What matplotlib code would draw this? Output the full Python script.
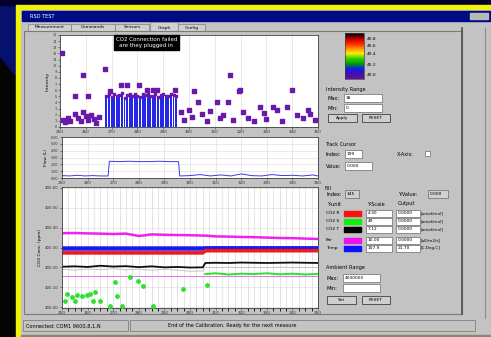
import matplotlib.pyplot as plt
import numpy as np
from matplotlib.patches import Rectangle, Polygon
from matplotlib.colors import LinearSegmentedColormap

# ---- data ----
x_tick_labels = ['250', '260', '270', '280', '290', '300', '310', '320', '330', '340', '350']

# top plot: intensity scatter + bar block
pts_x = [0.7, 5.8, 10.9, 8.9, 17.4, 19.4, 23.6, 26.0, 30.6, 33.7, 36.0, 37.6, 44.6,
         52.0, 53.5, 60.8, 66.0, 69.4, 65.0, 69.8, 90.0, 82.5, 77.5, 88.0, 96.0,
         1, 2, 3, 4, 6, 7, 8, 9, 10, 11, 12, 13, 14, 15,
         47, 48, 50, 51, 55, 57, 58, 62, 63, 67, 71, 73, 75, 79, 80, 84, 86, 92, 94, 97, 99]
pts_y = [12.1, 5.1, 5.1, 8.5, 9.5, 5.9, 6.8, 6.8, 6.8, 6.0, 6.0, 6.0, 6.0,
         5.9, 4.1, 4.1, 8.5, 5.9, 4.1, 6.0, 6.0, 3.3, 3.3, 3.3, 2.8,
         1.2, 0.8, 1.5, 1.0, 2.2, 1.4, 0.9, 2.5, 1.8, 1.1, 2.0, 1.3, 0.7, 1.6,
         2.4, 1.2, 2.8, 1.6, 2.2, 1.0, 2.6, 1.4, 2.0, 1.1, 2.5, 1.5, 0.9, 2.3, 1.3, 2.7, 1.0, 1.9, 1.4, 2.1, 1.2]
block_x = [18, 19, 20, 21, 22, 23, 24, 25, 26, 27, 28, 29, 30, 31,
           32, 33, 34, 35, 36, 37, 38, 39, 40, 41, 42, 43, 44, 45]
block_h = [5.0, 5.3, 4.9, 5.4, 5.1, 5.2, 5.5, 4.8, 5.2, 5.3, 5.0, 5.4, 5.1, 4.9,
           5.3, 5.2, 5.5, 5.0, 5.1, 5.4, 4.9, 5.2, 5.3, 5.0, 5.1, 5.4, 5.2, 5.0]

# middle plot: flow line
flow_x = [0, 3, 6, 9, 12, 15, 18, 18.5, 22, 26, 30, 34, 38, 42, 45.5, 46,
          50, 54, 58, 62, 66, 70, 74, 78, 82, 86, 90, 94, 98, 100]
flow_y = [0.35, 0.3, 0.4, 0.3, 0.35, 0.3, 0.3, 2.45, 2.4, 2.45, 2.4, 2.4, 2.45, 2.4, 2.4, 0.3,
          0.35, 0.5, 0.3, 0.45, 0.3, 0.6, 0.35, 0.3, 0.5, 0.35, 0.4, 0.3, 0.45, 0.3]

# bottom plot: sensor lines
l3_x = [0, 5, 10, 15, 20, 25, 30, 35, 40, 45, 50, 55, 56, 60, 65, 70, 75, 80, 85, 90, 95, 100]
par = [3.72, 3.73, 3.71, 3.70, 3.68, 3.70, 3.58, 3.66, 3.64, 3.63, 3.62, 3.60,
       3.60, 3.56, 3.55, 3.53, 3.52, 3.50, 3.48, 3.47, 3.45, 3.43]
temp = [2.95, 2.95, 2.95, 2.95, 2.95, 2.95, 2.95, 2.95, 2.95, 2.95, 2.95, 2.95,
        2.96, 2.96, 2.96, 2.96, 2.96, 2.96, 2.96, 2.96, 2.96, 2.96]
co2_r = [2.73, 2.73, 2.73, 2.73, 2.73, 2.73, 2.73, 2.73, 2.73, 2.73, 2.73, 2.73,
         2.84, 2.84, 2.84, 2.84, 2.84, 2.84, 2.84, 2.84, 2.84, 2.84]
co2_t = [2.03, 2.05, 2.02, 2.08, 2.04, 2.06, 2.01, 2.05, 2.00, 2.02, 1.99, 2.00,
         2.22, 2.23, 2.22, 2.24, 2.23, 2.22, 2.23, 2.24, 2.23, 2.22]
pink = [1.54, 1.54, 1.54, 1.54, 1.54, 1.54, 1.54, 1.54, 1.54, 1.54, 1.54, 1.54,
        1.54, 1.54, 1.54, 1.54, 1.54, 1.54, 1.54, 1.54, 1.54, 1.54]
grey = [1.90, 1.86, 1.92, 1.88, 1.93, 1.87, 1.91, 1.85, 1.90, 1.86, 1.80, 1.82,
        2.00, 1.98, 2.01, 1.99, 2.00, 1.98, 2.01, 1.99, 2.00, 1.99]
green_x = [56, 60, 65, 70, 75, 80, 85, 90, 95, 100]
green_y = [1.66, 1.70, 1.64, 1.68, 1.66, 1.70, 1.65, 1.68, 1.64, 1.67]
gdot_x = [2.0, 3.9, 5.9, 7.8, 9.8, 10.9, 12.9, 1.2, 5.1, 12.1, 14.8, 21.5, 20.7,
          26.6, 29.7, 31.6, 47.3, 56.6, 18.8, 23.4, 35.5]
gdot_y = [0.64, 0.50, 0.60, 0.55, 0.60, 0.64, 0.74, 0.30, 0.30, 0.30, 0.30, 0.55, 1.24,
          1.49, 1.29, 1.04, 0.89, 1.09, 0.05, 0.05, 0.05]
l3_ticks = ['400.60', '400.50', '400.40', '400.30', '400.20', '400.10', '400.00']

cbar_labels = ['40.8', '40.6', '40.4', '40.2', '40.0']
tabs = ['Measurement', 'Commands', 'Sensors', 'Graph', 'Config']
row_names = ['CO2 R', 'CO2 S', 'CO2 T', 'Par', 'Temp']
row_colors = ['#ff1010', '#10ee10', '#000000', '#ee10ee', '#1010ff']
row_scale = ['4.30', '40', '7.12', '10.00', '107.9']
row_out = ['0.0000', '0.0000', '0.0000', '0.0000', '21.70']
row_unit = ['[umol/mol]', '[umol/mol]', '[umol/mol]', '[uE/m2/s]', '[C.Deg.C]']

FS = 3.6
GRAY = '#c3c3c3'

fig = plt.figure(figsize=(4.91, 3.37), dpi=100)
bg = fig.add_axes([0, 0, 1, 1])
bg.set_xlim(0, 491)
bg.set_ylim(337, 0)
bg.axis('off')

# backdrop
bg.add_patch(Rectangle((0, 0), 491, 337, color='#06106e', zorder=0))
bg.add_patch(Rectangle((0, 0), 491, 5, color='#000028', zorder=0))
bg.add_patch(Polygon([[0, 58], [16, 78], [16, 337], [0, 337]], color='#050505', zorder=0))
# yellow frame
bg.add_patch(Rectangle((16, 5), 480, 340, color='#f4f400', zorder=1))
# window
bg.add_patch(Rectangle((21, 10), 475, 330, color=GRAY, zorder=2))
bg.add_patch(Rectangle((22, 11), 470, 10, color='#000a84', zorder=3))
bg.text(30, 16, 'RSD TEST', color='white', fontsize=FS, va='center', zorder=4)
bg.add_patch(Rectangle((470, 13), 18, 6, color='#b8b8b8', zorder=4))
bg.add_patch(Rectangle((21, 335), 470, 2, color='#8a8a70', zorder=4))

# tabs
tab_x = [28, 71, 115, 150, 178]
tab_w = [43, 44, 34, 28, 27]
for tx, tw, name in zip(tab_x, tab_w, tabs):
    top = 22 if name == 'Graph' else 24
    bg.add_patch(Rectangle((tx, top), tw, 31 - top, facecolor='#d0d0d0',
                           edgecolor='#808080', lw=0.5, zorder=4))
    bg.text(tx + tw / 2, 27.5, name, fontsize=FS - 0.4, ha='center', va='center', zorder=5)
# tab page frame
bg.add_patch(Rectangle((24, 31), 438, 283, facecolor='none', edgecolor='#7a7a7a', lw=0.8, zorder=4))
bg.plot([462, 462], [28, 314], color='#505050', lw=1.2, zorder=4)
bg.plot([485, 485], [28, 318], color='#8c8c8c', lw=0.8, zorder=4)

# status bar
bg.add_patch(Rectangle((23, 320), 105, 11, facecolor='none', edgecolor='#808080', lw=0.6, zorder=4))
bg.add_patch(Rectangle((130, 320), 345, 11, facecolor='none', edgecolor='#808080', lw=0.6, zorder=4))
bg.text(26, 326, 'Connected: COM1 9600,8,1,N', fontsize=FS, va='center', zorder=5)
bg.text(168, 326, 'End of the Calibration. Ready for the next measure', fontsize=FS, va='center', zorder=5)

# colour bar
cmap = LinearSegmentedColormap.from_list('rsd', ['#000000', '#b00000', '#ff2000', '#ff9000', '#ffee00',
                                                 '#30d000', '#00a000', '#1020e0', '#4010b0', '#6010a0'])
bg.imshow(np.linspace(0, 1, 50).reshape(-1, 1), cmap=cmap, aspect='auto',
          extent=(345, 364, 79, 33), zorder=5)
bg.add_patch(Rectangle((345, 33), 19, 46, facecolor='none', edgecolor='#404040', lw=0.5, zorder=6))
for yy, lab in zip([39, 46, 54, 65, 75], cbar_labels):
    bg.text(367, yy, lab, fontsize=FS - 0.4, va='center', zorder=6)


def box(x, y, w, h, txt='', white=True):
    bg.add_patch(Rectangle((x, y), w, h, facecolor='white' if white else '#d0d0d0',
                           edgecolor='#6a6a6a', lw=0.5, zorder=5))
    if txt:
        bg.text(x + 2, y + h / 2, txt, fontsize=FS - 0.4, va='center', zorder=6)


def button(x, y, w, h, txt):
    bg.add_patch(Rectangle((x, y), w, h, facecolor='#cfcfcf', edgecolor='#404040', lw=0.6, zorder=5))
    bg.text(x + w / 2, y + h / 2, txt, fontsize=FS - 0.4, ha='center', va='center', zorder=6)


# intensity range
bg.text(326, 90, 'Intensity Range', fontsize=FS, va='center', zorder=6)
bg.text(328, 98, 'Max:', fontsize=FS, va='center', zorder=6)
box(344, 94, 38, 8, '38')
bg.text(328, 108, 'Min:', fontsize=FS, va='center', zorder=6)
box(344, 104, 38, 8, '0')
button(328, 114, 29, 8, 'Apply')
button(362, 114, 28, 8, 'RESET')

# track cursor
bg.text(325, 144, 'Track Cursor', fontsize=FS, va='center', zorder=6)
bg.text(326, 154, 'Index:', fontsize=FS, va='center', zorder=6)
box(345, 150, 17, 8, '199')
bg.text(397, 154, 'X-Axis:', fontsize=FS, va='center', zorder=6)
box(425, 151, 5, 5)
bg.text(326, 166, 'Value:', fontsize=FS, va='center', zorder=6)
box(345, 162, 27, 8, '0.000')

# y-unit table
bg.text(325, 188, 'Fill', fontsize=FS, va='center', zorder=6)
bg.text(327, 194, 'Index:', fontsize=FS, va='center', zorder=6)
box(345, 190, 14, 8, '145', white=False)
bg.text(398, 194, 'Y-Value:', fontsize=FS, va='center', zorder=6)
box(428, 190, 20, 8, '0.000', white=False)
bg.text(327, 204, 'Y-unit', fontsize=FS, va='center', zorder=6)
bg.text(367, 204, 'Y-Scale', fontsize=FS, va='center', zorder=6)
bg.text(398, 204, 'Output', fontsize=FS, va='center', zorder=6)
row_y = [213, 221, 229, 240, 248]
for ry, nm, col, sc, out, un in zip(row_y, row_names, row_colors, row_scale, row_out, row_unit):
    bg.text(326, ry, nm, fontsize=FS - 0.4, va='center', zorder=6)
    bg.add_patch(Rectangle((344, ry - 2.5), 17, 5, color=col, zorder=6))
    box(366, ry - 3.5, 26, 7, sc)
    box(396, ry - 3.5, 24, 7, out)
    bg.text(421, ry, un, fontsize=FS - 0.6, va='center', zorder=6)

# ambient range
bg.text(326, 268, 'Ambient Range', fontsize=FS, va='center', zorder=6)
bg.text(327, 278, 'Max:', fontsize=FS, va='center', zorder=6)
box(343, 274, 37, 8, '4000000')
bg.text(327, 288, 'Min:', fontsize=FS, va='center', zorder=6)
box(343, 284, 37, 8, '')
button(327, 296, 29, 8, 'Set')
button(362, 296, 28, 8, 'RESET')


def frac(x0, y0, x1, y1):
    return [x0 / 491, 1 - y1 / 337, (x1 - x0) / 491, (y1 - y0) / 337]


def style(ax, ylab):
    ax.set_facecolor('white')
    ax.set_xlim(0, 100)
    ax.set_xticks(np.linspace(0, 100, len(x_tick_labels)))
    ax.set_xticklabels(x_tick_labels, fontsize=FS - 0.6)
    ax.tick_params(length=1.5, width=0.4, pad=1, labelsize=FS - 0.6, colors='#303030')
    ax.grid(True, color='#d8d8d8', lw=0.4)
    for s in ax.spines.values():
        s.set_color('#404040')
        s.set_linewidth(0.6)
    ax.set_ylabel(ylab, fontsize=FS - 0.4, labelpad=2)


# --- top: intensity
ax1 = fig.add_axes(frac(60, 35, 318, 127))
ax1.bar(block_x, block_h, width=0.75, color='#2626e6', zorder=2)
ax1.scatter(block_x, block_h, marker='s', s=4, color='#6a1aa8', zorder=3)
ax1.scatter(pts_x, pts_y, marker='s', s=5, color='#6a1aa8', zorder=3)
ax1.set_ylim(0, 15)
yt1 = np.arange(0, 16)
ax1.set_yticks(yt1)
style(ax1, 'Intensity')
ax1.set_yticklabels([str(v) for v in yt1], fontsize=FS - 1.2)
ax1.grid(axis='y', visible=False)
ax1.text(0.335, 0.92, 'CO2 Connection failed\nare they plugged in', transform=ax1.transAxes,
         color='white', fontsize=FS + 0.4, ha='center', va='center', zorder=5,
         bbox=dict(boxstyle='square,pad=0.4', fc='black', ec='black'))

# --- middle: flow
ax2 = fig.add_axes(frac(62, 137, 318, 178))
ax2.plot(flow_x, flow_y, color='#3a3af0', lw=0.7)
ax2.set_ylim(0, 6)
ax2.set_yticks(np.arange(0, 7))
style(ax2, 'Flow (L)')
ax2.set_yticklabels(['0.00', '1.00', '2.00', '3.00', '4.00', '5.00', '6.00'], fontsize=FS - 1.2)

# --- bottom: sensor traces
ax3 = fig.add_axes(frac(62, 187, 318, 308))
ax3.plot(l3_x, grey, color='#bcbcbc', lw=0.6)
ax3.plot(l3_x, pink, color='#f070f0', lw=0.7)
ax3.plot(l3_x, par, color='#f020f0', lw=1.8)
ax3.plot(l3_x, temp, color='#1a1af0', lw=3.2)
ax3.plot(l3_x, co2_r, color='#f01a1a', lw=2.6)
ax3.plot(l3_x, co2_t, color='#101010', lw=1.3)
ax3.plot(green_x, green_y, color='#30e030', lw=1.4)
ax3.scatter(gdot_x, gdot_y, s=6, color='#30e030', zorder=3)
ax3.set_ylim(-0.05, 6.05)
ax3.set_yticks(np.arange(6, -1, -1))
style(ax3, 'CO2 Conc. (ppm)')
ax3.set_yticklabels(l3_ticks, fontsize=FS - 0.8)
ax3.set_xticks(np.arange(0, 101, 2.5), minor=True)
ax3.grid(True, which='minor', axis='x', color='#d0d0d0', lw=0.4)

fig.savefig('out.png', dpi=100)
